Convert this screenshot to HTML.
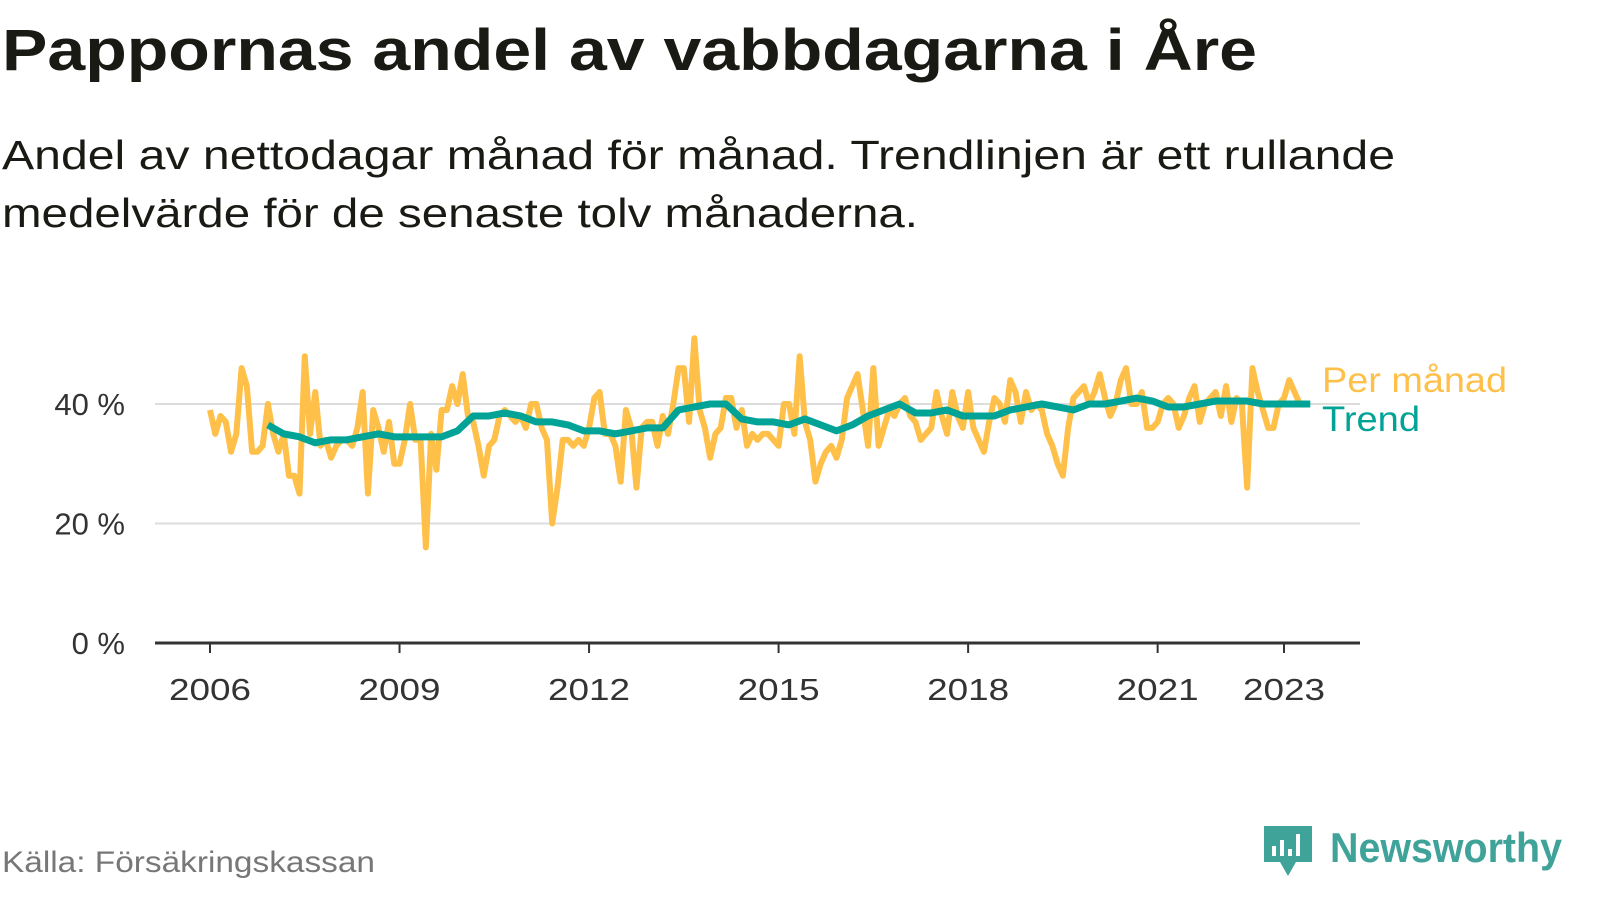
<!DOCTYPE html>
<html><head><meta charset="utf-8"><style>
body{margin:0;background:#fff;width:1600px;height:900px;overflow:hidden;font-family:"Liberation Sans",sans-serif;}
</style></head><body>
<svg width="1600" height="900">
<text x="2" y="70" font-size="58" font-weight="bold" fill="#1a1a14" textLength="1255" lengthAdjust="spacingAndGlyphs">Pappornas andel av vabbdagarna i Åre</text>
<text x="2" y="169" font-size="41" fill="#1a1a14" textLength="1393" lengthAdjust="spacingAndGlyphs">Andel av nettodagar månad för månad. Trendlinjen är ett rullande</text>
<text x="2" y="227" font-size="41" fill="#1a1a14" textLength="916" lengthAdjust="spacingAndGlyphs">medelvärde för de senaste tolv månaderna.</text>
<g id="grid"></g><g id="plot"></g>
<text x="1322" y="392" font-size="35" fill="#ffc04a" textLength="185" lengthAdjust="spacingAndGlyphs">Per månad</text>
<text x="1322" y="431" font-size="35" fill="#00a396" textLength="98" lengthAdjust="spacingAndGlyphs">Trend</text>
<text x="2" y="872" font-size="30" fill="#777" textLength="373" lengthAdjust="spacingAndGlyphs">Källa: Försäkringskassan</text>
<g>
<path d="M1264 826h48v36h-16l-8 14-8-14h-16z" fill="#3fa39a"/>
<rect x="1272" y="846" width="4" height="10" fill="#fff"/><rect x="1280" y="840" width="4" height="16" fill="#fff"/><rect x="1288" y="849" width="4" height="7" fill="#fff"/><rect x="1296" y="834" width="4" height="22" fill="#fff"/>
<text x="1330" y="862" font-size="42" font-weight="bold" fill="#3fa39a" textLength="232" lengthAdjust="spacingAndGlyphs">Newsworthy</text>
</g>
</svg>
<script>
const monthly=[39,35,38,37,32,35,46,43,32,32,33,40,
35,32,35,28,28,25,48,35,42,33,34,31,
33,34,34,33,36,42,25,39,36,32,37,30,
30,34,40,34,34,16,35,29,39,39,43,40,
45,38,37,33,28,33,34,38,39,38,37,38,
36,40,40,36,34,20,26,34,34,33,34,33,
36,41,42,35,35,33,27,39,36,26,36,37,
37,33,38,35,40,46,46,37,51,39,36,31,
35,36,41,41,36,39,33,35,34,35,35,34,
33,40,40,35,48,37,34,27,30,32,33,31,
34,41,43,45,39,33,46,33,36,39,38,40,
41,38,37,34,35,36,42,38,35,42,38,36,
42,36,34,32,37,41,40,37,44,42,37,42,
39,40,39,35,33,30,28,36,41,42,43,40,
42,45,41,38,40,44,46,40,40,42,36,36,
37,40,41,40,36,38,41,43,37,40,41,42,
38,43,37,41,40,26,46,42,39,36,36,40,
41,44,42,40,40];
const trendStart=11;
const trend=[36.5,35,34.5,33.5,34,34,34.5,35,34.5,34.5,34.5,34.5,35.5,38,38,38.5,38,37,37,36.5,35.5,35.5,35,35.5,36,36,39,39.5,40,40,37.5,37,37,36.5,37.5,36.5,35.5,36.5,38,39,40,38.5,38.5,39,38,38,38,39,39.5,40,39.5,39,40,40,40.5,41,40.5,39.5,39.5,40,40.5,40.5,40.5,40,40,40,40];
const yTicks=[0,20,40];
const xTickYears=[2006,2009,2012,2015,2018,2021,2023];
const NS="http://www.w3.org/2000/svg";
const x=m=>210+m*(1284-210)/(17*12);
const y=v=>643-v*(643-404)/40;
const grid=document.getElementById('grid'),plot=document.getElementById('plot');
function el(t,a,p){const e=document.createElementNS(NS,t);for(const k in a)e.setAttribute(k,a[k]);p.appendChild(e);return e;}
yTicks.forEach(v=>{
 if(v>0){const l=el('line',{x1:155,x2:1360,y1:y(v),y2:y(v),stroke:'#ddd','stroke-width':2},grid);
 
 }
 const t=el('text',{x:125,y:y(v)+11,'font-size':31,fill:'#333','text-anchor':'end'},grid);t.textContent=v+' %';
 
 
});
const ax=el('line',{x1:155,x2:1360,y1:643,y2:643,stroke:'#333','stroke-width':3},grid);


xTickYears.forEach(yr=>{
 const xx=x((yr-2006)*12);
 el('line',{x1:xx,x2:xx,y1:643,y2:653,stroke:'#333','stroke-width':2},grid);
 const t=el('text',{x:xx,y:700,'font-size':31,fill:'#333','text-anchor':'middle',textLength:82,lengthAdjust:'spacingAndGlyphs'},grid);t.textContent=yr;
 
 
});
const p1=el('polyline',{points:monthly.map((v,i)=>x(i)+','+y(v)).join(' '),fill:'none',stroke:'#ffc04a','stroke-width':6,'stroke-linejoin':'round'},plot);


const p2=el('polyline',{points:trend.map((v,i)=>x(trendStart+3*i)+','+y(v)).join(' '),fill:'none',stroke:'#00a396','stroke-width':7,'stroke-linejoin':'round'},plot);


</script>
</body></html>
